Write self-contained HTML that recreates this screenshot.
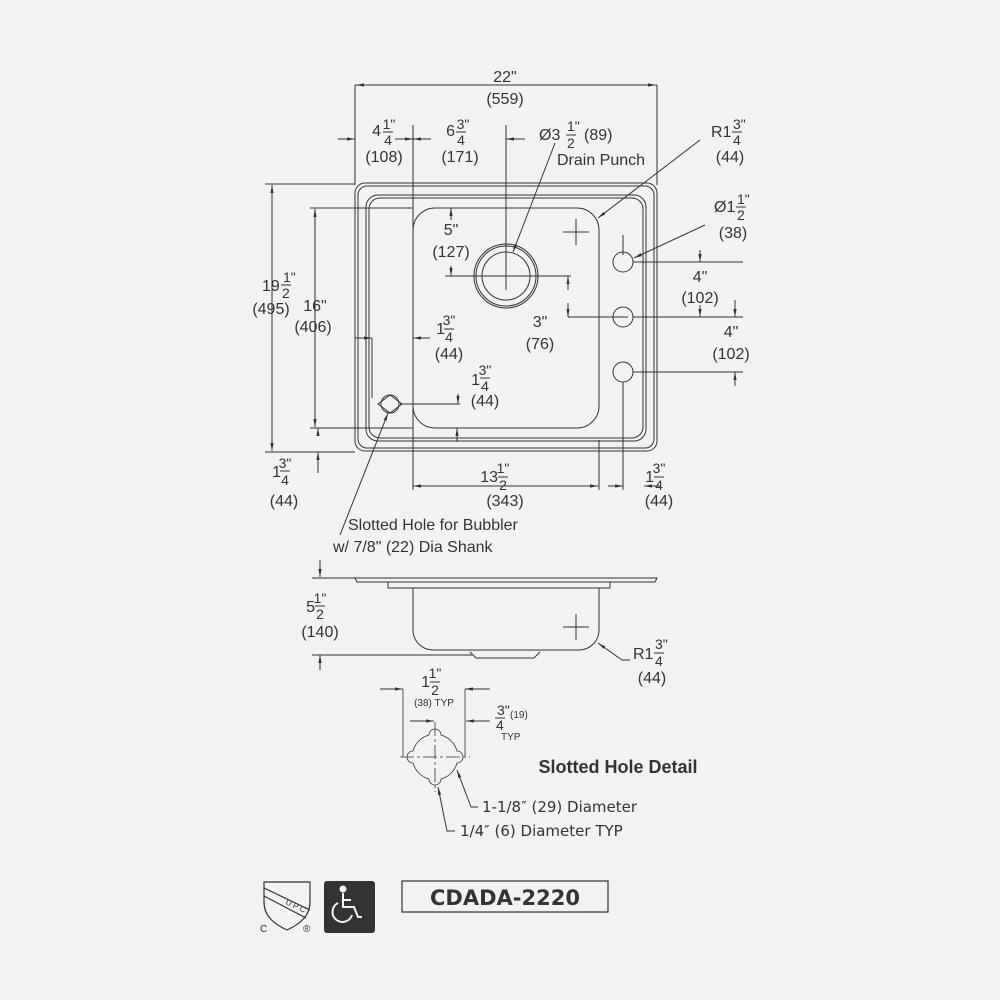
<!DOCTYPE html>
<html><head><meta charset="utf-8"><style>
html,body{margin:0;padding:0;background:#f2f2f2}
svg{display:block}
text{font-family:"Liberation Sans",sans-serif;fill:#333;font-size:16px}
.f{font-size:14px}
</style></head><body>
<svg width="1000" height="1000" viewBox="0 0 1000 1000" xmlns="http://www.w3.org/2000/svg">
<defs>
<marker id="a" viewBox="0 0 10 10" refX="10" refY="5" markerWidth="8" markerHeight="8" orient="auto-start-reverse"><path d="M0,3 L10,5 L0,7z" fill="#333"/></marker>
</defs>
<rect width="1000" height="1000" fill="#f2f2f2"/>
<g stroke="#333" stroke-width="1" fill="none">
<rect x="355" y="183" width="302" height="268" rx="10"/>
<rect x="358" y="186" width="296" height="262" rx="9"/>
<rect x="366" y="195" width="280" height="246" rx="12"/>
<rect x="369" y="198" width="274" height="240" rx="11"/>
<rect x="413" y="208" width="186" height="220" rx="22"/>
<circle cx="506" cy="276" r="32"/><circle cx="506" cy="276" r="30"/><circle cx="506" cy="276" r="24"/>
<circle cx="623" cy="262" r="10"/><circle cx="623" cy="317" r="10"/><circle cx="623" cy="372" r="10"/>
<path d="M378,404 L390,395 L402,404 L390,413Z"/><circle cx="390" cy="404" r="9"/>
<path d="M563,232h26M576,219v26"/>
<path d="M355,85v100M657,85v100M355,85h302"/>
<path d="M413,125v365M506,125v165M355,125v60"/>
<path d="M265,184h90M310,208h103M310,428h103M265,452h90"/>
<path d="M445,276h126M568,317h60M633,262h110M633,317h110M633,372h110"/>
<path d="M599,440v50M623,382v108M623,235v20"/>
<path d="M372,338v60M400,404h60M318,452h37"/>
</g>
<g stroke="#333" stroke-width="1" fill="none" marker-end="url(#a)" marker-start="url(#a)">
<path d="M356,85h300"/>
<path d="M272,185v266"/>
<path d="M315,209v218"/>
<path d="M413,486h185"/>
</g>
<g stroke="#333" stroke-width="1" fill="none" marker-end="url(#a)">
<path d="M338,139h17"/><path d="M431,139h-18"/>
<path d="M395,139h18"/><path d="M525,139h-19"/>
<path d="M451,220v-12"/><path d="M451,266v10"/>
<path d="M568,290v-14"/><path d="M568,303v14"/>
<path d="M700,250v12"/><path d="M700,305v12"/>
<path d="M735,300v17"/><path d="M735,386v-14"/>
<path d="M355,338h17"/><path d="M430,338h-17"/>
<path d="M458,394v10"/><path d="M457,442v-14"/>
<path d="M318,473v-21"/><path d="M318,433v-5"/>
<path d="M608,486h15"/><path d="M660,486h-16"/>
<path d="M555,143L513,252"/>
<path d="M700,140L598,218"/>
<path d="M705,225L634,258"/>
<path d="M340,535L388,413"/>
<path d="M320,560v17"/><path d="M320,670v-15"/>
<path d="M630,660h-8L598,643"/>
</g>
<g stroke="#333" stroke-width="1" fill="none">
<path d="M355,578h302l-2,4H357z"/>
<path d="M388,582v6h222v-6"/>
<path d="M413,588v42a20,20 0 0 0 20,20h146a20,20 0 0 0 20,-20v-42"/>
<path d="M470,652l6,6h58l6,-6"/>
<path d="M563,627h26M576,614v26"/>
<path d="M312,578h43M312,655h160"/>
</g>
<g stroke="#333" stroke-width="0.8" fill="none">
<path d="M429,735 A6,6 0 0 1 441,735 A23,23 0 0 1 457,751 A6,6 0 0 1 457,763 A23,23 0 0 1 441,779 A6,6 0 0 1 429,779 A23,23 0 0 1 413,763 A6,6 0 0 1 413,751 A23,23 0 0 1 429,735Z"/>
<path d="M400,757h70M435,722v70" stroke-dasharray="14,3,3,3"/>
<path d="M403,689v68M465,689v68"/>
</g>
<g stroke="#333" stroke-width="1" fill="none" marker-end="url(#a)">
<path d="M380,689h23"/><path d="M490,689h-25"/><path d="M410,721h24"/><path d="M490,721h-24"/>
<path d="M478,807h-7L457,770"/><path d="M455,831h-8L438,787"/>
</g>
<text x="505" y="82" text-anchor="middle">22"</text>
<text x="505" y="104" text-anchor="middle">(559)</text>
<text x="381" y="136" text-anchor="end">4</text><text x="389" y="129" text-anchor="middle" class="f">1"</text><line x1="383" y1="132" x2="393" y2="132" stroke="#333"/><text x="388" y="145" text-anchor="middle" class="f">4</text>
<text x="384" y="162" text-anchor="middle">(108)</text>
<text x="455" y="136" text-anchor="end">6</text><text x="463" y="129" text-anchor="middle" class="f">3"</text><line x1="456" y1="132" x2="466" y2="132" stroke="#333"/><text x="461" y="145" text-anchor="middle" class="f">4</text>
<text x="460" y="162" text-anchor="middle">(171)</text>
<text x="539" y="140">Ø3</text><text x="567" y="131" class="f">1"</text><line x1="566" y1="135" x2="576" y2="135" stroke="#333"/><text x="567" y="148" class="f">2</text><text x="584" y="140">(89)</text>
<text x="557" y="165">Drain Punch</text>
<text x="711" y="137">R1</text><text x="733" y="129" class="f">3"</text><line x1="732" y1="132" x2="742" y2="132" stroke="#333"/><text x="733" y="145" class="f">4</text>
<text x="730" y="162" text-anchor="middle">(44)</text>
<text x="714" y="212">Ø1</text><text x="737" y="204" class="f">1"</text><line x1="736" y1="207" x2="746" y2="207" stroke="#333"/><text x="737" y="220" class="f">2</text>
<text x="733" y="238" text-anchor="middle">(38)</text>
<text x="700" y="282" text-anchor="middle">4"</text><text x="700" y="303" text-anchor="middle">(102)</text>
<text x="731" y="337" text-anchor="middle">4"</text><text x="731" y="359" text-anchor="middle">(102)</text>
<text x="451" y="235" text-anchor="middle">5"</text><text x="451" y="257" text-anchor="middle">(127)</text>
<text x="540" y="327" text-anchor="middle">3"</text><text x="540" y="349" text-anchor="middle">(76)</text>
<text x="445" y="334" text-anchor="end">1</text><text x="449" y="325" text-anchor="middle" class="f">3"</text><line x1="444" y1="329" x2="454" y2="329" stroke="#333"/><text x="449" y="342" text-anchor="middle" class="f">4</text>
<text x="449" y="359" text-anchor="middle">(44)</text>
<text x="480" y="385" text-anchor="end">1</text><text x="485" y="375" text-anchor="middle" class="f">3"</text><line x1="480" y1="378" x2="490" y2="378" stroke="#333"/><text x="485" y="391" text-anchor="middle" class="f">4</text>
<text x="485" y="406" text-anchor="middle">(44)</text>
<text x="262" y="291">19</text><text x="283" y="282" class="f">1"</text><line x1="281" y1="285" x2="291" y2="285" stroke="#333"/><text x="282" y="298" class="f">2</text>
<text x="271" y="314" text-anchor="middle">(495)</text>
<text x="315" y="311" text-anchor="middle">16"</text><text x="313" y="332" text-anchor="middle">(406)</text>
<text x="281" y="477" text-anchor="end">1</text><text x="285" y="468" text-anchor="middle" class="f">3"</text><line x1="280" y1="471" x2="290" y2="471" stroke="#333"/><text x="285" y="485" text-anchor="middle" class="f">4</text>
<text x="284" y="506" text-anchor="middle">(44)</text>
<text x="498" y="482" text-anchor="end">13</text><text x="503" y="473" text-anchor="middle" class="f">1"</text><line x1="498" y1="477" x2="508" y2="477" stroke="#333"/><text x="503" y="490" text-anchor="middle" class="f">2</text>
<text x="505" y="506" text-anchor="middle">(343)</text>
<text x="654" y="482" text-anchor="end">1</text><text x="659" y="473" text-anchor="middle" class="f">3"</text><line x1="654" y1="477" x2="664" y2="477" stroke="#333"/><text x="659" y="490" text-anchor="middle" class="f">4</text>
<text x="659" y="506" text-anchor="middle">(44)</text>
<text x="348" y="530">Slotted Hole for Bubbler</text>
<text x="333" y="552">w/ 7/8" (22) Dia Shank</text>
<text x="315" y="612" text-anchor="end">5</text><text x="320" y="603" text-anchor="middle" class="f">1"</text><line x1="315" y1="606" x2="325" y2="606" stroke="#333"/><text x="320" y="619" text-anchor="middle" class="f">2</text>
<text x="320" y="637" text-anchor="middle">(140)</text>
<text x="633" y="659">R1</text><text x="655" y="649" class="f">3"</text><line x1="654" y1="653" x2="664" y2="653" stroke="#333"/><text x="655" y="666" class="f">4</text>
<text x="652" y="683" text-anchor="middle">(44)</text>
<text x="430" y="687" text-anchor="end">1</text><text x="435" y="678" text-anchor="middle" class="f">1"</text><line x1="430" y1="682" x2="440" y2="682" stroke="#333"/><text x="435" y="695" text-anchor="middle" class="f">2</text>
<text x="434" y="706" text-anchor="middle" style="font-size:10px">(38) TYP</text>
<text x="497" y="715" class="f">3"</text><line x1="495" y1="718" x2="505" y2="718" stroke="#333"/><text x="496" y="730" class="f">4</text>
<text x="510" y="718" style="font-size:10px">(19)</text><text x="501" y="740" style="font-size:10px">TYP</text>
<text x="618" y="773" text-anchor="middle" style="font-weight:bold;font-size:18px">Slotted Hole Detail</text>
<text x="482" y="812" style="font-family:'DejaVu Sans',sans-serif;font-size:15px">1-1/8″ (29) Diameter</text>
<text x="460" y="836" style="font-family:'DejaVu Sans',sans-serif;font-size:15px">1/4″ (6) Diameter TYP</text>
<g stroke="#333" fill="none" stroke-width="1.2">
<path d="M264,882h46v20c0,14 -10,22 -23,28c-13,-6 -23,-14 -23,-28z"/>
<path d="M264,888l46,22M264,896l42,22"/>
</g>
<text x="285" y="904" style="font-size:8px" transform="rotate(25 285 904)">U P C</text>
<text x="260" y="932" style="font-size:10px">C</text><text x="303" y="932" style="font-size:10px">®</text>
<rect x="324" y="881" width="51" height="52" rx="3" fill="#333"/>
<g stroke="#f2f2f2" fill="none" stroke-width="2">
<circle cx="343" cy="889" r="2.5" fill="#f2f2f2"/>
<path d="M343,893v14h11l4,10h4"/>
<path d="M343,900h8"/>
<path d="M338,903a10,10 0 1 0 14,12"/>
</g>
<rect x="402" y="881" width="206" height="31" fill="none" stroke="#333" stroke-width="1.2"/>
<text x="505" y="905" text-anchor="middle" style="font-family:'DejaVu Sans',sans-serif;font-weight:bold;font-size:21px">CDADA-2220</text>
</svg>
</body></html>
